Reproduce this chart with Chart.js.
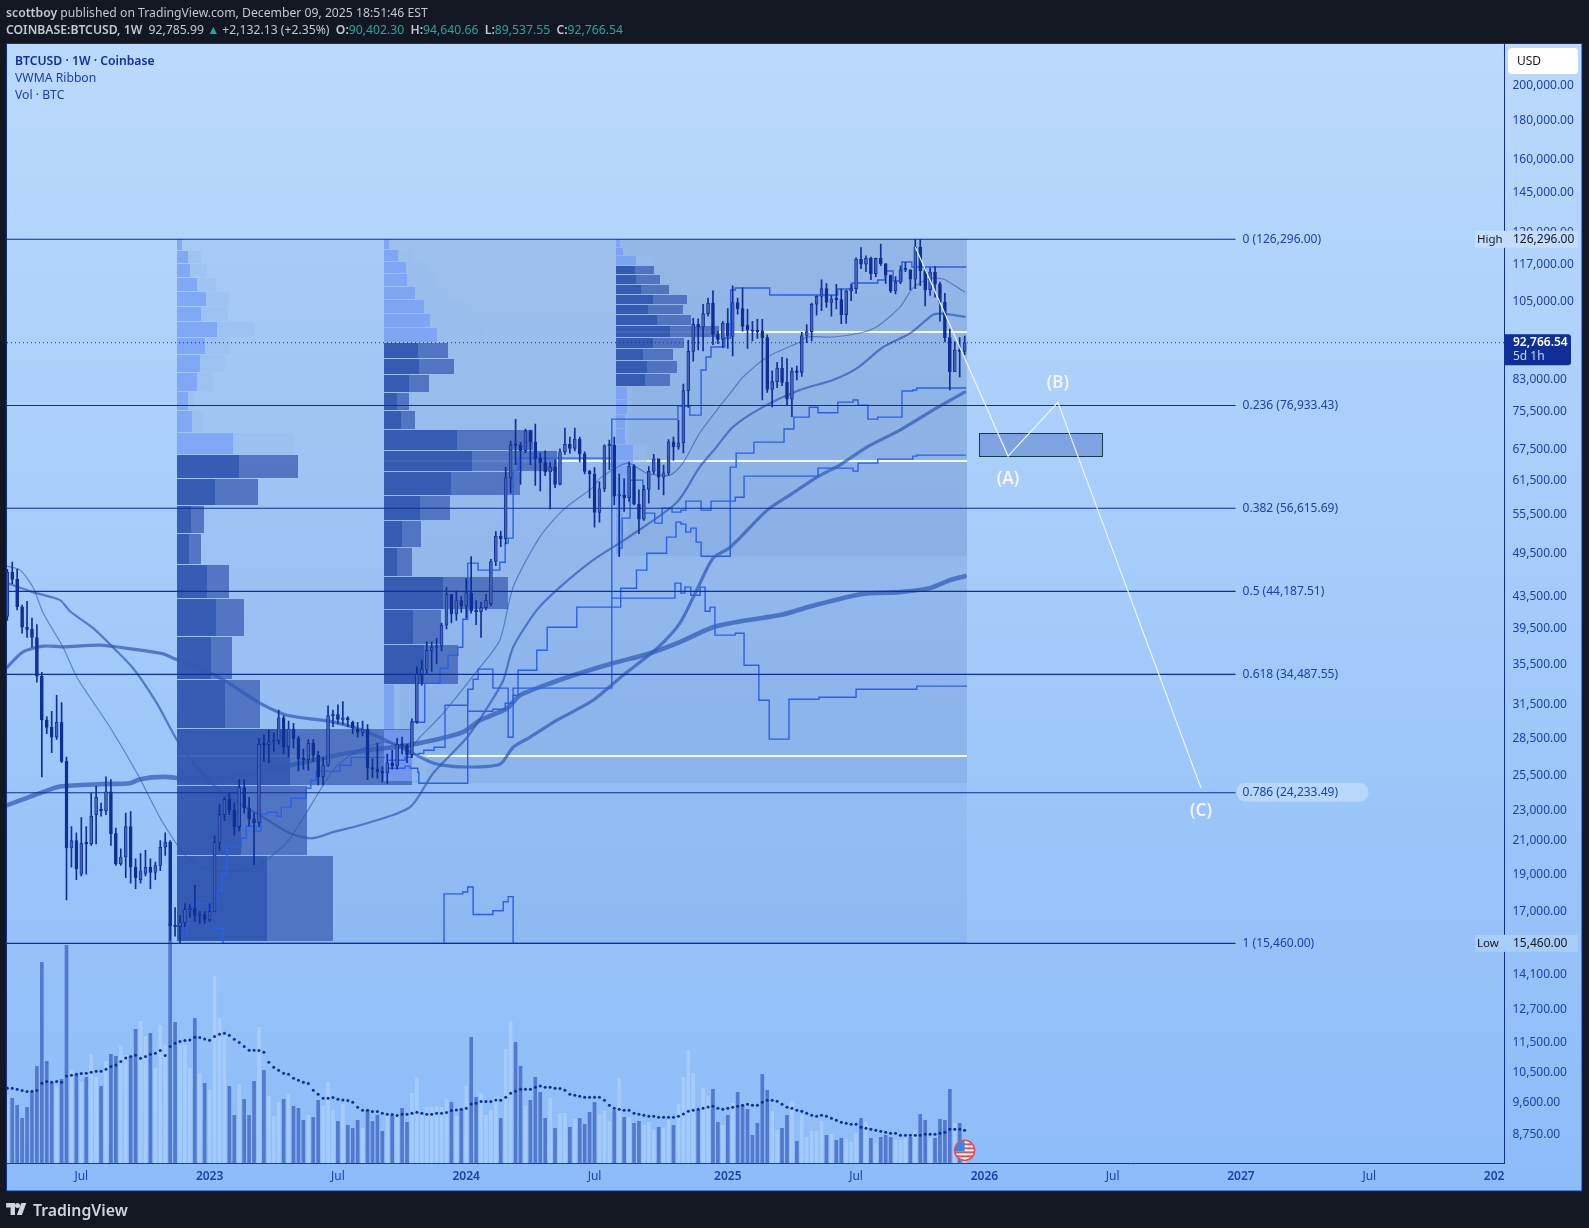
<!DOCTYPE html>
<html><head><meta charset="utf-8"><title>BTCUSD</title>
<script src="https://cdn.jsdelivr.net/npm/chart.js@4/dist/chart.umd.min.js"></script>
<style>
html,body{margin:0;padding:0;background:#131722;width:1589px;height:1228px;overflow:hidden}
body{position:relative;font-family:"Noto Sans",sans-serif;font-size:12.2px;color:#c4c7d0}
canvas{position:absolute;left:0;top:0}
.t{position:absolute;white-space:nowrap;line-height:17px}
b{font-weight:600}
.g{color:#22ab94}
.leg{color:#1a3fa6}
</style></head><body>
<canvas id="c" width="1589" height="1228"></canvas>
<div class="t" style="left:6px;top:4px"><b>scottboy</b> published on TradingView.com, December 09, 2025 18:51:46 EST</div>
<div class="t" style="left:6px;top:21px"><b>COINBASE:BTCUSD, 1W</b>&nbsp; 92,785.99 <span class="g">▲</span> +2,132.13 (+2.35%)&nbsp; <b>O:</b><span class="g">90,402.30</span>&nbsp; <b>H:</b><span class="g">94,640.66</span>&nbsp; <b>L:</b><span class="g">89,537.55</span>&nbsp; <b>C:</b><span class="g">92,766.54</span></div>
<div class="t leg" style="left:15px;top:52px"><b style="color:#10309c">BTCUSD · 1W · Coinbase</b></div>
<div class="t leg" style="left:15px;top:69px">VWMA Ribbon</div>
<div class="t leg" style="left:15px;top:86px">Vol · BTC</div>
<svg style="position:absolute;left:6px;top:1203px" width="23" height="12" viewBox="0 0 36 19"><path fill="#d1d4dc" d="M14 0H0v7h7v12h7V0zm11 19h-8L24 0h8l-7 19zM22 4a4 4 0 1 1-8 0 4 4 0 0 1 8 0z"/></svg>
<div class="t" style="left:33px;top:1200px;font-size:15.8px;line-height:20px;font-weight:600;color:#d1d4dc">TradingView</div>
<script>
// ---- candles (weekly, first bar = 21 Mar 2022) ----
const opens=[41000,46800,45800,42200,39700,39450,38500,34300,30100,29450,28600,29900,26600,20550,21000,19000,20850,20800,22700,23000,22950,24300,21450,19600,20000,21900,19400,18700,19050,19400,19100,19500,20600,20900,16300,16250,16450,17100,17150,16800,16850,16600,17000,20900,22700,23750,23000,21900,24600,23150,22400,22150,28000,27950,28200,28300,30300,27800,29300,28500,26800,26750,28100,27100,25400,26300,30500,30600,30150,30300,29900,29300,29000,29300,26100,26000,25800,25700,26500,26250,28000,27900,27150,29950,34500,35000,37050,37400,37500,39950,43800,41300,43000,42300,44000,41700,41600,42100,42600,48300,52100,51700,62000,68400,68300,67200,71300,69000,65700,64900,63100,64000,60800,67000,68500,67700,69600,66600,63200,62700,55900,60000,68200,68300,58700,58900,58400,64200,57300,54800,59900,63200,65600,62100,62900,69000,68000,68800,80400,90400,98000,97200,101200,104400,95100,93700,98400,94500,104600,102700,97700,96400,96000,96000,94200,80700,82600,86000,82400,78400,85200,84900,94800,95900,104100,106500,109000,104600,105700,105500,100900,108300,109000,119000,117300,119400,114000,119300,117400,113500,108300,111100,115300,115300,112100,123400,115000,108600,114500,110500,104700,94200,85000,90800,90402.3];
const closes=[46800,45800,42200,39700,39450,38500,34300,30100,29450,28600,29900,26600,20550,21000,19300,20850,20800,22600,23900,22950,24300,21450,19600,20000,21900,19400,18800,19200,19400,19100,19500,20600,20900,16300,16250,16450,17100,17150,16800,16850,16600,17000,20900,22700,23750,23000,21900,24600,23150,22400,22150,28000,27950,28200,28300,30300,27800,29300,28500,26800,26750,28100,27100,25400,26300,30500,30600,30150,30300,30100,29400,29000,29300,26100,26000,25800,25700,26500,26250,28000,27900,27150,29950,34500,35000,37050,37400,37500,39950,43800,41300,43000,42300,44000,41700,41600,42100,43000,48300,52100,51700,62000,68400,68300,67200,71300,69000,65700,64900,63100,64000,60800,67000,68500,67700,69600,66600,63200,62700,55900,60000,68200,68300,58700,58900,58400,64200,57300,54800,59900,63200,65600,62100,62900,69000,68000,68800,80400,90400,98000,97200,101200,104400,95100,93700,98400,94500,104600,102700,97400,96400,96000,95900,94200,80700,82600,86000,82400,78400,85200,84900,94800,95900,104100,106500,109000,104600,105700,105500,100900,108300,109000,119000,117300,119400,114000,119300,117400,113500,108300,111100,115300,115300,112100,123400,115000,108600,114500,110500,104700,94200,85000,90800,90400,92766.54];
const highs=[47200,48200,47200,42400,42900,40800,40000,34700,30400,30900,32400,31700,26950,21900,21500,22500,21900,24200,24700,23500,25400,25200,21800,20500,22800,22900,19900,20200,20400,19900,19700,21000,21500,21000,17200,16800,17400,17350,18400,17000,17000,17400,21300,23400,23900,24200,23500,25200,25200,23900,22800,28500,28800,29200,29000,31000,30500,30000,29800,28700,27600,28400,28400,27400,26900,31400,31000,31500,31800,30400,30000,29900,30000,29700,26800,28100,26200,27200,27500,28500,28600,28000,30200,35300,36000,38000,38000,38400,40200,44700,43500,44300,43500,45900,49000,43000,42800,43800,48600,52800,52900,64000,69200,73800,68900,71700,71500,72800,66800,67200,64900,65400,67600,71900,70000,71900,70000,67000,63400,63900,61300,68400,69400,70000,62700,61800,65000,64500,59800,60600,64100,66500,65600,64400,69500,70000,73600,82000,93400,99800,99600,104000,106000,108300,96000,98900,102700,109900,106000,109300,102500,98900,99500,99500,95000,85300,87500,88800,88500,86100,86500,95700,97900,104400,106700,111900,110700,106800,110400,108900,108500,110500,119500,123200,120200,119800,119400,124500,117600,113500,113000,116700,117900,115400,126296,126296,116000,116000,116400,111200,107500,96600,93000,94200,94640.66];
const lows=[40500,45200,41800,39000,38500,37400,33700,25400,28900,27300,28400,26500,17600,19400,18700,18900,19000,20700,20800,22600,22700,20700,19500,19500,18800,18500,18200,18500,18900,18200,18700,19200,20100,15600,15800,15460,16250,16700,16500,16400,16400,16500,17000,20400,22300,22700,21350,21600,22800,21950,19550,21900,26600,26500,27400,28000,27200,26950,27700,25850,26000,25900,26600,24800,24800,26200,29500,29750,29700,29500,28900,28600,28700,25200,25350,25300,25000,24900,26000,26000,27200,26500,26900,29800,33400,34600,34800,35600,37000,39500,40200,40500,41500,40800,41400,40000,38500,41800,42300,47700,50500,50900,59200,64500,60800,66800,64500,60600,59600,62400,56500,60200,60700,66500,66700,67200,65000,62700,58400,53500,54300,59500,63500,57200,49000,56100,57800,57200,52500,54600,57500,62700,59900,58900,62500,65300,67500,66800,76500,87800,90800,90500,100400,92200,92500,91500,91200,89200,101000,96000,91200,93300,94000,78200,80000,76600,81100,81600,77100,74400,83000,83900,92800,93300,100700,102100,103100,100400,102600,98200,98300,105200,107500,115700,114700,112000,113000,116700,110700,107700,107300,110600,114700,108600,109000,110000,103500,106800,106300,98900,93000,80600,85200,83800,89537.55];
// ---- volume (thousand BTC) and its moving average ----
const volumes=[68,65,58,45,56,71,97,201,102,80,77,84,218,93,89,81,86,109,86,77,102,109,107,117,108,107,134,142,127,130,95,138,118,240,141,118,118,95,145,90,80,73,187,145,127,77,48,79,64,48,82,136,93,67,47,61,64,69,57,55,43,48,46,63,57,81,53,42,59,38,35,43,35,53,42,48,32,48,48,48,55,41,70,85,48,56,56,57,56,64,61,47,54,77,126,66,70,48,53,66,45,114,142,121,97,57,63,86,71,45,65,35,50,50,36,44,45,39,51,61,49,52,42,53,85,46,46,40,42,38,41,33,36,35,43,38,59,86,113,90,53,75,67,74,41,38,48,60,71,58,54,28,40,89,73,52,33,35,48,62,22,48,26,32,32,42,28,29,23,25,24,21,30,45,41,25,20,26,28,26,23,23,25,26,33,49,43,25,25,44,43,74,40,40,17];
const volumeAverage=[75,75,74,72.7,71.7,72,72.7,80,81.7,81,81.7,81,87.3,88,89,89.7,90,91,92,92,94,96.7,98.3,101.7,105.3,106.7,108,105,106.7,109,110,112.7,107.7,116.7,120,121.7,122.7,123.3,126,125.7,124.3,123,126.7,129,130,128,124,120.7,116.7,113,113,112.7,111,101,96,93,90,89,85,83,81,79.7,73,69,65,65,65.7,64,63.3,62.7,61,56,53,53,51.7,51.7,50,49,48.7,47.7,49,49,50,51,50,49,49,50,50,50.7,52.7,53.3,54,55,59.3,60,61.7,61.7,61.7,63.3,63,66,70,72,74,74,74,76,77.3,76,76,75,74.7,73,69,68,67,66,66,66,66,63,58,55,54,53,53,50,49,48,47,47,46,46,46,46,47,49.3,52,53,54,55,56.3,57,55,54,55,56,57,58,59,58,58,61,63,63,62,59,56,55,53,52,50,48,47,48,47,45,43,41,40,39,39,36,35,34,33,32,31,30,30,28,28,28,28,28,29,29,29,30,31,34,34,34,33];
// ---- VWMA ribbon ----
const ribbonAWeeks=[0,7.3,10.7,19,24.9,26.9,31.6,36.4,43.1,47.2,55.9,66,72.9,79.6,86.3,92.3,95.8,101.3,103.9,110.6,116,122.7,129.6,136.3,143,149.9,156.6,162.9,173,180.9,187,191,194];
const ribbonAValues=[23350,24290,24680,24860,24930,25230,25400,25250,25250,25530,26170,27040,27500,27830,28340,29030,30080,31180,32410,33690,34610,35660,36630,37980,39700,40540,41160,42270,43810,44080,44610,45680,46230];
const ribbonBWeeks=[0,3.2,7.3,11.3,18.8,25.5,31.6,33.6,39.1,44.5,51.2,56.7,66,72.9,79.6,86.3,91.7,99.8,102.5,105.9,111.4,118.7,124.8,131.7,136.3,139.7,143,146.5,154,159.2,164.1,168.7,174.2,180.9,187.6,194];
const ribbonBValues=[35260,36880,37520,37440,37630,37180,36670,36200,35130,33720,31650,30530,29930,29050,27780,26480,26170,26380,27750,28590,30080,31930,34410,37290,40180,44340,48780,50400,56300,59240,62130,64400,67950,71480,75880,80070];
const ribbonCWeeks=[0,5.2,10.7,12.7,17.4,21.4,25.5,30.3,34.4,38.4,43.7,51.2,57.3,61.7,66,72.9,81.6,86.3,93.2,97.2,100.5,102.5,107.3,112,118.7,125.6,135.7,140.3,143.7,147,153.1,160.6,167.3,172.2,177.5,183,187.6,189.6,194];
const ribbonCValues=[45280,44080,43040,41640,39590,37400,35130,31650,28340,26140,24190,22660,21470,21150,21540,22120,23210,25680,28590,31180,33890,37400,41770,44740,48490,51790,57650,64010,67950,72130,76560,80550,82990,86010,91580,95480,100860,101170,100220];
const ribbonDWeeks=[0,2.6,5.2,7.3,11.3,14.1,20.8,26.3,31.6,37,41.7,45.7,49.8,56.7,66,70.1,76.1,81.6,83.6,88.3,95.8,99.8,102.5,107.9,112.6,118.7,120.1,125.6,129.6,134.3,136.9,140.3,143.8,147,149.1,154,160.6,162,167.3,172.8,176.2,180.9,183.5,186.6,189.6,194];
const ribbonDValues=[47620,47070,44740,41390,37400,34200,29460,25680,22120,19810,19230,19170,19340,20910,25910,27250,28170,27750,28590,30710,35240,38190,44740,51950,56300,60300,61940,64780,62880,62510,64780,70840,75880,80550,83740,88890,92950,94360,94360,95500,97300,103150,109200,112190,112190,107920];
// ---- anchored step lines ----
const step1Weeks=[36,37,38.4,40.7,42.5,43.5,44.5,47.4,48.4,50.4,51.4,52.6,54.7,55.5,57.5,60.5,61.5,62.6,67.4,69.7,76.5];
const step1Values=[17060,17320,17410,17160,18110,19000,20600,21150,21920,21600,22730,22860,22590,23210,23830,24560,25150,25830,26300,26940,26940];
const step2Weeks=[76.7,80.6,81.6,83.2,83.4,93.3,94.4,95.4,98.4,101.5,102.5,103.5,107.3,109.4,115.4,124.3,127.5,129.6,133.6,135.5,136.5,137.5,138.5,139.6,140.6,146.5,147.7,151.3,157.4,159.4,162.5,164.3,168.3,171.4,172.4,174.4,176.4,181.3,183.5,184.3,194.3];
const step2Values=[26070,26230,26070,25760,24920,33000,33990,35030,33100,28590,33100,34920,37070,39700,42150,44600,47070,49500,51950,54320,54000,52720,53360,51170,49060,64000,66740,68970,71700,74310,76520,75270,77710,78180,77020,73870,74310,80310,80550,81030,81030];
const step3Weeks=[93.3,98.4,100.9,102.5,103.5,122.5,135.9,138.3,140.6,141.6,142.6,145.4,146.6,147.5,154.5,168.3,171.2,176.4,177.9,179.5,181.3,183.3,194.3];
const step3Values=[30900,31080,31650,32410,33100,73870,76780,74750,85500,88900,91580,94070,108560,109200,106950,108880,110850,111850,114900,111500,118020,116260,116260];
const step4Weeks=[122.5,135.3,136.5,137.3,138.5,140.4,141.4,142.4,143.4,147.5,149.3,152.3,154.4,158.4,164.5,172,184.3,194.3];
const step4Values=[43300,45280,43950,44740,43680,44740,41640,42150,38770,39000,35450,31930,28430,32020,32220,33000,33300,33390];
const step5Weeks=[88.5,88.5,92.3,93.3,94.4,98.4,100.5,101.5,102.5];
const step5Values=[15460,17920,18020,18290,16850,17040,17500,17770,15460];
const step6Weeks=[77.2,80.6,82,84.6,87.7,89.3,91.3,92.3,93.3,95.4,99.8,100.9,101.5,102.5,103.5,122.3];
const step6Values=[26700,26940,29900,33590,35130,36520,37400,40660,48060,47070,48200,51020,51790,63250,65750,65750];
const step7Weeks=[124.2,124.6,126.2,128.8,131.2,132.7,134.7,136.5,137.5,140.6,142.6,147.5,149.3,164.3,171.4,172.4,176.4,183.5,184.3,194.3];
const step7Values=[50260,54970,61570,55800,54150,56640,55960,56300,57830,56300,57830,58500,62310,63820,63250,64780,65550,66150,66340,66340];
const step8Weeks=[34.4,36.4,41.7,43.7,43.7,194.3];
const step8Values=[15930,16410,16170,16070,15460,15460];
const step9Weeks=[82.2,83.4,84.4,86.5,88.7,92.3,93.3,93.3];
const step9Values=[27170,27250,27500,27750,31450,31450,31930,33000];
// ---- volume profiles (row top prices, row up volume, row total volume, in value area) ----
const profileAStart=34.4, profileAFloor=15460;
const profileATops=[126296,121960,117320,112520,107910,103190,98670,94160,89420,84740,80070,75650,70840,66340,61760,56970,52410,47780,43170,38530,33890,29290,24700,20050,15510];
const profileAUp=[5,11,13,20,29,24,40,28,23,20,11,15,56,62,38,14,12,30,39,34,48,113,64,90];
const profileATotal=[5,24,30,39,52,51,78,53,48,36,16,26,117,121,81,27,24,52,67,55,83,235,130,156];
const profileAValueArea=[0,0,0,0,0,0,0,0,0,0,0,0,0,1,1,1,1,1,1,1,1,1,1,1];
const profileBStart=76.3, profileBFloor=24950;
const profileBTops=[126296,122330,118020,113850,109530,105370,101050,96920,92670,88350,84230,79830,75650,71480,67140,63060,58700,54480,50260,46090,41770,37630,33390,29200,25000];
const profileBUp=[5,14,22,23,31,40,46,53,34,35,25,13,17,73,88,67,36,18,13,59,29,40,10,28];
const profileBTotal=[7,28,45,50,63,81,86,100,64,70,45,25,31,149,173,136,66,37,28,124,57,74,16,43];
const profileBValueArea=[0,0,0,0,0,0,0,0,1,1,1,1,1,1,1,1,1,1,1,1,1,1,0,0];
const profileCStart=123.3, profileCFloor=49120;
const profileCTops=[126296,123120,120160,116610,113540,110190,106950,103810,100760,97500,94160,91040,87830,84480,81270,78180,74750,71700,68360,64200,62130,58520,55800,52260,49220];
const profileCUp=[4,7,20,19,20,25,37,32,41,54,37,27,31,29,11,11,9,9,17,12,11,9,7,5];
const profileCTotal=[4,11,39,38,44,53,71,67,75,103,68,57,61,54,16,16,13,13,31,20,17,14,11,8];
const profileCValueArea=[0,0,0,1,1,1,1,1,1,1,1,1,1,1,0,0,0,0,0,0,0,0,0,0];
const profileEnd=194.4;
const pocPrices=[27030,65250,95860];
const pocStarts=[34.4,76.3,123.3];
// ---- fibonacci, projection, scales ----
const fibRatios=['0','0.236','0.382','0.5','0.618','0.786','1'];
const fibPrices=[126296,76933.43,56615.69,44187.51,34487.55,24233.49,15460];
const fibEndWeek=248.9;
const projectionWeeks=[184,202.8,212.9,241.9];
const projectionPrices=[123420,66150,77660,24580];
const waveNames=['(A)','(B)','(C)'];
const wavePrices=[62130,82740,23070];
const zoneWeeks=[197,221.9];
const zonePrices=[70800,66030];
const lastPrice=92766.54;
const priceTicks=[200000,180000,160000,145000,129000,117000,105000,83000,75500,67500,61500,55500,49500,43500,39500,35500,31500,28500,25500,23000,21000,19000,17000,14100,12700,11500,10500,9600,8750];
const timeTickWeeks=[15,41,67,93,119,146,172,198,224,250,276,301.3];
const timeTickLabels=['Jul','2023','Jul','2024','Jul','2025','Jul','2026','Jul','2027','Jul','202'];

const navy='#0f2f96', axisText='#1c41ab', stepBlue='#2c5fe6';
const FONT='"Noto Sans", sans-serif';
const xy=(w,v)=>w.map((x,i)=>({x,y:v[i]}));
const idx=closes.map((_,i)=>i);
const X0=-0.06,X1=303.4;

const stepDs=(w,v)=>({type:'line',data:xy(w,v),borderColor:stepBlue,borderWidth:1.4,pointRadius:0,stepped:'before',order:40});
const ribbon=(w,v,lw,col)=>({type:'line',data:xy(w,v),borderColor:col,borderWidth:lw,pointRadius:0,tension:0.25,order:50,borderCapStyle:'round',borderJoinStyle:'round'});

const datasets=[
 {type:'bar',yAxisID:'y2',data:idx.map(i=>({x:i,y:volumes[i]})),barThickness:3,grouped:false,order:100,
  backgroundColor:idx.map(i=>closes[i]<opens[i]?'#5279cb':'rgba(190,220,255,0.48)'),borderWidth:0},
 {type:'line',yAxisID:'y2',data:idx.map(i=>({x:i,y:volumeAverage[i]})),showLine:false,pointRadius:1.5,pointBackgroundColor:navy,pointBorderWidth:0,order:99},
 ribbon(ribbonDWeeks,ribbonDValues,1.2,'rgba(45,85,175,0.6)'),
 ribbon(ribbonCWeeks,ribbonCValues,2.2,'rgba(45,85,175,0.68)'),
 ribbon(ribbonBWeeks,ribbonBValues,3.2,'rgba(50,90,180,0.72)'),
 ribbon(ribbonAWeeks,ribbonAValues,4.6,'rgba(50,90,180,0.72)'),
 stepDs(step1Weeks,step1Values),stepDs(step2Weeks,step2Values),stepDs(step3Weeks,step3Values),
 stepDs(step4Weeks,step4Values),stepDs(step5Weeks,step5Values),stepDs(step6Weeks,step6Values),
 stepDs(step7Weeks,step7Values),stepDs(step8Weeks,step8Values),stepDs(step9Weeks,step9Values),
 ...fibPrices.map(p=>({type:'line',data:[{x:X0,y:p},{x:fibEndWeek,y:p}],borderColor:navy,borderWidth:1.1,pointRadius:0,order:30})),
 {type:'line',data:[{x:X0,y:lastPrice},{x:X1,y:lastPrice}],borderColor:navy,borderWidth:1,borderDash:[1,3],pointRadius:0,order:29},
 {type:'bar',data:idx.map(i=>({x:i,y:[lows[i],highs[i]]})),barThickness:1,grouped:false,backgroundColor:navy,borderWidth:0,order:20},
 {type:'bar',data:idx.map(i=>({x:i,y:[Math.min(opens[i],closes[i]),Math.max(opens[i],closes[i])]})),barThickness:3,minBarLength:1.5,grouped:false,
  backgroundColor:idx.map(i=>closes[i]<opens[i]?navy:'rgba(190,220,255,0.3)'),borderColor:navy,borderWidth:0.9,borderSkipped:false,order:19},
 {type:'line',data:xy(projectionWeeks,projectionPrices),borderColor:'#eef5ff',borderWidth:1.2,pointRadius:0,order:10}
];

function drawProfile(ctx,x,y,start,floor,tops,up,total,va){
 const x0=Math.round(x.getPixelForValue(start));
 for(let i=0;i<up.length;i++){
  const t=Math.round(y.getPixelForValue(tops[i]));
  const b=Math.round(y.getPixelForValue(tops[i+1]))-1;
  const dark=va[i]===1;
  ctx.fillStyle=dark?'rgba(69,105,186,0.85)':'rgba(150,190,240,0.46)';
  ctx.fillRect(x0+up[i],t,total[i]-up[i],b-t);
  ctx.fillStyle=dark?'rgba(36,74,168,0.85)':'rgba(120,160,245,0.8)';
  ctx.fillRect(x0,t,up[i],b-t);
 }
}
const panel={id:'panel',
 beforeDraw(c){const g=c.ctx;g.save();
  const gr=g.createLinearGradient(0,44,0,1191);gr.addColorStop(0,'#bbd9fc');gr.addColorStop(1,'#8cbcf8');
  g.fillStyle=gr;g.fillRect(7,44,1575,1147);
  g.strokeStyle='#0f2f96';g.lineWidth=1;g.strokeRect(6.5,43.5,1575.5,1147.5);g.restore();},
 beforeDatasetsDraw(c){const g=c.ctx,x=c.scales.x,y=c.scales.y;g.save();
  const r=c.chartArea;g.beginPath();g.rect(r.left,r.top,r.width,r.height);g.clip();
  const xe=Math.round(x.getPixelForValue(profileEnd)),ty=Math.round(y.getPixelForValue(126296));
  [[profileAStart,profileAFloor],[profileBStart,profileBFloor],[profileCStart,profileCFloor]].forEach(([s,f])=>{
   const xs=Math.round(x.getPixelForValue(s));g.fillStyle='rgba(33,68,151,0.07)';
   g.fillRect(xs,ty,xe-xs,Math.round(y.getPixelForValue(f))-ty);});
  pocPrices.forEach((p,i)=>{const xs=Math.round(x.getPixelForValue(pocStarts[i]));g.fillStyle='rgba(255,255,255,0.92)';
   g.fillRect(xs,Math.round(y.getPixelForValue(p))-1,xe-xs,2);});
  drawProfile(g,x,y,profileAStart,profileAFloor,profileATops,profileAUp,profileATotal,profileAValueArea);
  drawProfile(g,x,y,profileBStart,profileBFloor,profileBTops,profileBUp,profileBTotal,profileBValueArea);
  drawProfile(g,x,y,profileCStart,profileCFloor,profileCTops,profileCUp,profileCTotal,profileCValueArea);
  const zx0=x.getPixelForValue(zoneWeeks[0]),zx1=x.getPixelForValue(zoneWeeks[1]),zy0=y.getPixelForValue(zonePrices[0]),zy1=y.getPixelForValue(zonePrices[1]);
  g.fillStyle='rgba(90,125,205,0.55)';g.fillRect(zx0,zy0,zx1-zx0,zy1-zy0);
  g.strokeStyle='#123f46';g.lineWidth=1;g.strokeRect(Math.round(zx0)+.5,Math.round(zy0)+.5,Math.round(zx1-zx0),Math.round(zy1-zy0));
  g.restore();},
 afterDraw(c){const g=c.ctx,x=c.scales.x,y=c.scales.y,y2=c.scales.y2;g.save();
  g.textBaseline='middle';
  // fibonacci labels
  const lx=x.getPixelForValue(fibEndWeek)+7;
  const py=y.getPixelForValue(24233.49);
  g.fillStyle='rgba(225,238,255,0.42)';g.beginPath();g.roundRect(lx-6,py-10,132,19,9);g.fill();
  g.font='12px '+FONT;g.fillStyle=axisText;g.textAlign='left';
  fibPrices.forEach((p,i)=>g.fillText(fibRatios[i]+' ('+p.toLocaleString('en-US',{minimumFractionDigits:2})+')',lx,y.getPixelForValue(p)));
  // wave labels
  g.font='600 17px '+FONT;g.fillStyle='#f2f7ff';g.textAlign='center';
  const shift=[2,2,2];
  waveNames.forEach((n,i)=>g.fillText(n,x.getPixelForValue(projectionWeeks[i+1]),y.getPixelForValue(wavePrices[i])+shift[i]));
  // USD button
  g.fillStyle='#ffffff';g.beginPath();g.roundRect(1508,48,70,26,4);g.fill();
  g.fillStyle='#131722';g.font='12px '+FONT;g.textAlign='left';g.fillText('USD',1517,62);
  // High / Low tags
  [['High',126296],['Low',15460]].forEach(([t,p])=>{const yy=y.getPixelForValue(p);
   g.fillStyle=t==='Low'?'#a7cdf9':'#c3ddfc';g.fillRect(1475,yy-8.5,103,17);
   g.fillStyle='#131722';g.textAlign='left';g.font='11.5px '+FONT;g.fillText(t,1477,yy+.5);
   g.font='12px '+FONT;g.fillText(p.toLocaleString('en-US',{minimumFractionDigits:2}),1513,yy+.5);});
  // last price tag
  const ly=y.getPixelForValue(lastPrice);
  g.fillStyle=navy;g.beginPath();g.roundRect(1505,ly-8.5,66,31,[0,3,3,0]);g.fill();
  g.fillStyle='#fff';g.font='600 12px '+FONT;g.fillText('92,766.54',1513,ly);
  g.fillStyle='#c9d4f2';g.font='12px '+FONT;g.fillText('5d 1h',1513,ly+14);
  // event flag
  const fx=x.getPixelForValue(194),fy=y2.getPixelForValue(13),r=10;
  g.save();g.beginPath();g.arc(fx,fy,r,0,7);g.clip();g.fillStyle='#fff';g.fillRect(fx-r,fy-r,2*r,2*r);
  g.fillStyle='#f24a52';[-7,-3,1,5].forEach(d=>g.fillRect(fx-r,fy+d,2*r,2));
  g.fillStyle='#2f8be6';g.fillRect(fx-r,fy-r,r,r+1);g.restore();
  g.strokeStyle='#f04850';g.lineWidth=1.6;g.beginPath();g.arc(fx,fy,r,0,7);g.stroke();
  g.restore();}
};

new Chart(document.getElementById('c'),{
 type:'bar',
 data:{datasets},
 plugins:[panel],
 options:{responsive:false,animation:false,events:[],
  layout:{padding:{left:7,top:44,right:7,bottom:37}},
  plugins:{legend:{display:false},tooltip:{enabled:false}},
  scales:{
   x:{type:'linear',min:X0,max:X1,offset:false,position:'bottom',
    grid:{display:false,offset:false,drawTicks:false},border:{display:true,color:navy,width:1},
    afterBuildTicks(s){s.ticks=timeTickWeeks.map(v=>({value:v}));},
    afterFit(s){s.height=27.7;},
    ticks:{autoSkip:false,maxRotation:0,minRotation:0,padding:6,color:axisText,
     font:ctx=>({family:'"Noto Sans", sans-serif',size:12,weight:/^\d/.test(timeTickLabels[ctx.index]||'')?'600':'400'}),
     callback:(v,i)=>timeTickLabels[i]}},
   y:{type:'logarithmic',position:'right',min:8021,max:226170,bounds:'data',
    grid:{display:false,drawTicks:false},border:{display:true,color:navy,width:1},
    afterBuildTicks(s){s.ticks=priceTicks.map(v=>({value:v}));},
    afterFit(s){s.width=77.5;},
    ticks:{autoSkip:false,padding:8,crossAlign:'near',color:axisText,font:{family:'"Noto Sans", sans-serif',size:12},
     callback:v=>Number(v).toLocaleString('en-US',{minimumFractionDigits:2})}},
   y2:{type:'linear',display:false,position:'left',min:0,max:1119.3,beginAtZero:true}
  }}
});
</script>
</body></html>
